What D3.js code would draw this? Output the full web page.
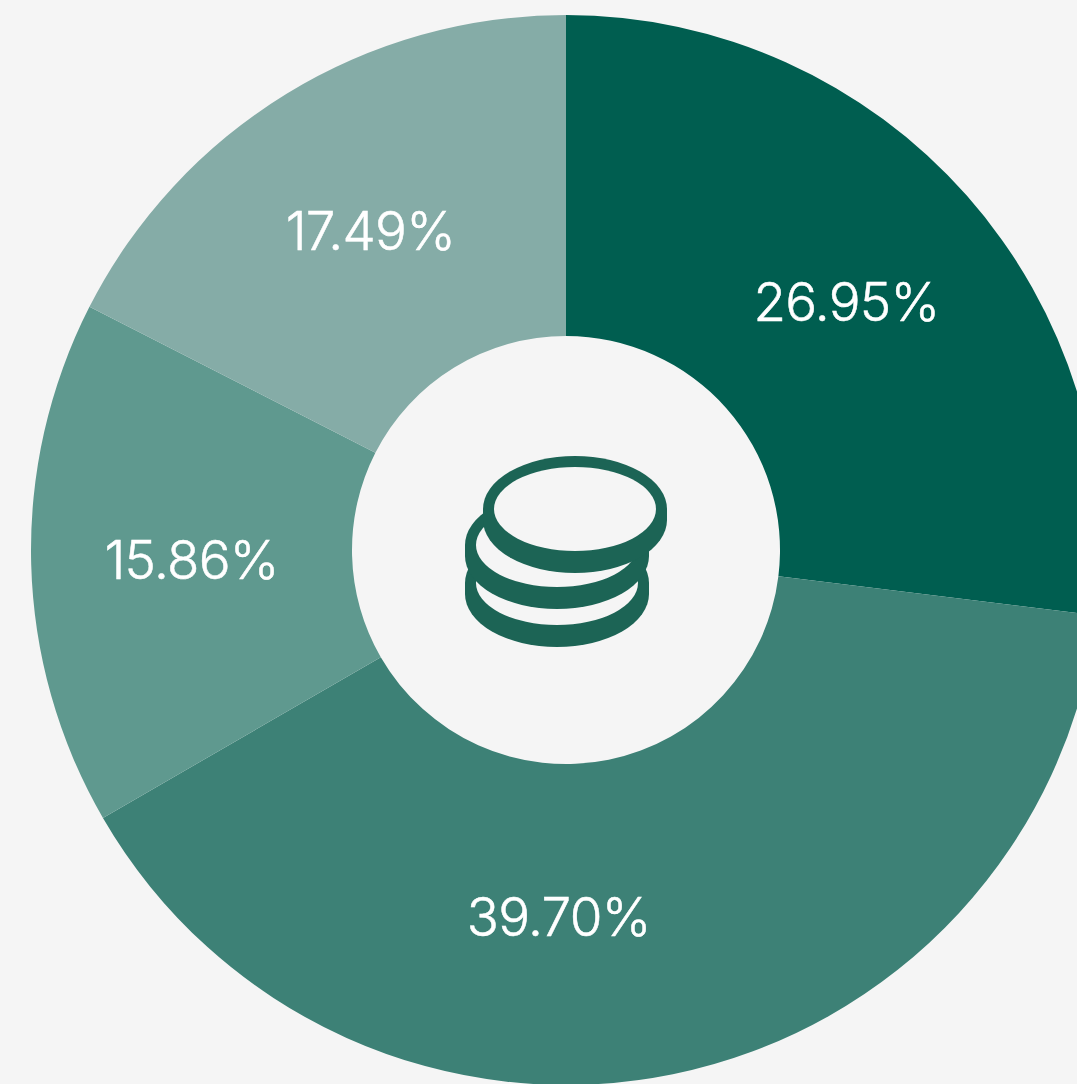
<!DOCTYPE html>
<html>
<head>
<meta charset="utf-8">
<script src="https://cdn.jsdelivr.net/npm/d3@7"></script>
<style>
  html, body { margin: 0; padding: 0; background: #f5f5f5; overflow: hidden; }
  text { font-family: Inter, "Liberation Sans", Arial, sans-serif; font-weight: 300; }
</style>
</head>
<body>
<script>
var shares = [26.95, 39.70, 15.86, 17.49];
var sliceColors = ["#005e50", "#3d8176", "#5f998f", "#85aca7"];

var width = 1077, height = 1084;
var cx = 566, cy = 550;
var outerRadius = 535, innerRadius = 214;

var svg = d3.select("body").append("svg")
  .attr("width", width).attr("height", height)
  .style("display", "block");

var chart = svg.append("g").attr("transform", "translate(" + cx + "," + cy + ")");

var pie = d3.pie().sort(null)(shares);
var arc = d3.arc().innerRadius(innerRadius).outerRadius(outerRadius);

chart.selectAll("path.slice")
  .data(pie)
  .enter()
  .append("path")
  .attr("class", "slice")
  .attr("d", arc)
  .attr("fill", function(d, i) { return sliceColors[i]; });

//labels sit on the centroid, the big bottom slice has its label pulled back to the middle
chart.selectAll("text.label")
  .data(pie)
  .enter()
  .append("text")
  .attr("class", "label")
  .attr("x", function(d, i) { return arc.centroid(d)[0] - (i == 1 ? 82 : 0); })
  .attr("y", function(d) { return arc.centroid(d)[1]; })
  .attr("dy", "0.36em")
  .attr("text-anchor", "middle")
  .attr("font-size", 53)
  .attr("letter-spacing", -0.7)
  .attr("fill", "#ffffff")
  .attr("stroke", "#ffffff")
  .attr("stroke-width", 0.5)
  .text(function(d) { return d.value.toFixed(2) + "%"; });

//coin icon in the hole, drawn from the bottom coin up
var iconColor = "#1c6455";
var coins = chart.append("g").attr("class", "coins");
[[-9, 33], [-9, -5], [9, -41]].forEach(function(c) {
  var x = c[0], y = c[1];
  coins.append("path")
    .attr("fill", iconColor)
    .attr("d", "M" + (x - 92) + "," + y +
      "A92,53 0 0 1 " + (x + 92) + "," + y +
      "V" + (y + 11) +
      "A92,53 0 0 1 " + (x - 92) + "," + (y + 11) + "Z");
  coins.append("ellipse")
    .attr("cx", x).attr("cy", y)
    .attr("rx", 81).attr("ry", 42)
    .attr("fill", "#f5f5f5");
});
</script>
</body>
</html>
